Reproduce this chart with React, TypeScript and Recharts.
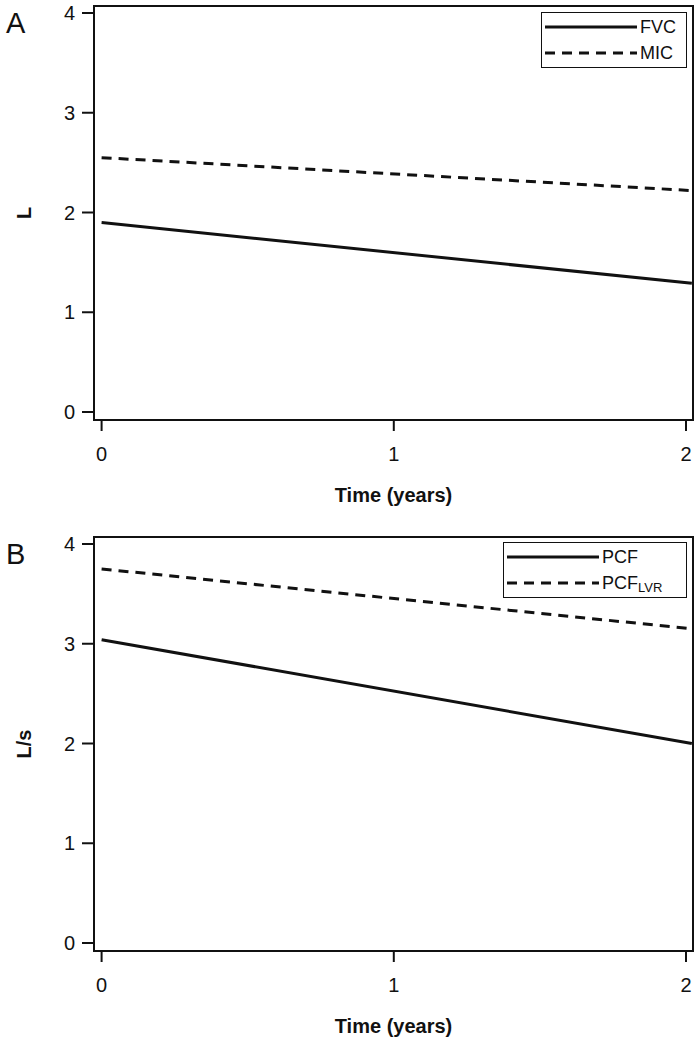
import { LineChart, Line, XAxis, YAxis, Legend, CartesianGrid } from 'recharts'

// values (linear trends, start / end of the time axis)
const TIME = [0, 2.02]
const FVC = [1.9, 1.29]
const MIC = [2.55, 2.22]
const PCF = [3.04, 2.0]
const PCF_LVR = [3.75, 3.15]
const X_TICKS = [0, 1, 2]
const Y_TICKS = [0, 1, 2, 3, 4]

const FONT = '"Liberation Sans", Arial, Helvetica, sans-serif'
const INK = '#111'
const DASH = '10 7'
const X_DOMAIN: [number, number] = [-0.026, 2.024]
const Y_DOMAIN: [number, number] = [-0.08, 4.07]

// layout of one panel
const W = 699
const H = 512
const M = { top: 6, right: 6, bottom: 0, left: 0 }
const Y_AXIS_W = 94
const X_AXIS_H = 92

type Series = { key: string; name: string; sub?: string; values: number[]; dash?: string }

const PANELS: { letter: string; yLabel: string; top: number; legendWidth: number; series: Series[] }[] = [
  {
    letter: 'A', yLabel: 'L', top: 0, legendWidth: 146,
    series: [
      { key: 'fvc', name: 'FVC', values: FVC },
      { key: 'mic', name: 'MIC', values: MIC, dash: DASH },
    ],
  },
  {
    letter: 'B', yLabel: 'L/s', top: 531, legendWidth: 184,
    series: [
      { key: 'pcf', name: 'PCF', values: PCF },
      { key: 'pcfLvr', name: 'PCF', sub: 'LVR', values: PCF_LVR, dash: DASH },
    ],
  },
]

const axisLine = { stroke: INK, strokeWidth: 2 }

const XTick = ({ x, y, payload }: any) => (
  <text x={x} y={y + 14} textAnchor="middle" fill={INK} fontSize={20} fontFamily={FONT}>{payload.value}</text>
)
const YTick = ({ x, y, payload }: any) => (
  <text x={x} y={y + 7} textAnchor="end" fill={INK} fontSize={20} fontFamily={FONT}>{payload.value}</text>
)

const YTitle = ({ viewBox, value }: any) => {
  const cx = 24
  const cy = viewBox.y + viewBox.height / 2
  return (
    <text x={cx} y={cy} transform={`rotate(-90 ${cx} ${cy})`} textAnchor="middle" dominantBaseline="central"
      fill={INK} fontSize={20} fontWeight="bold" fontFamily={FONT}>{value}</text>
  )
}

const XTitle = ({ viewBox, value }: any) => (
  <text x={viewBox.x + viewBox.width / 2} y={viewBox.y + 82} textAnchor="middle"
    fill={INK} fontSize={20} fontWeight="bold" fontFamily={FONT}>{value}</text>
)

const LegendBox = ({ series, width }: { series: Series[]; width: number }) => (
  <div style={{ width, boxSizing: 'border-box', border: `1.5px solid ${INK}`, background: '#fff', padding: '1px 0', fontFamily: FONT }}>
    {series.map(s => (
      <div key={s.key} style={{ display: 'flex', alignItems: 'center', height: 26 }}>
        <svg width={98} height={8} style={{ flex: 'none' }}>
          <line x1={3} x2={95} y1={4} y2={4} stroke={INK} strokeWidth={3} strokeDasharray={s.dash} />
        </svg>
        <span style={{ fontSize: 18, color: INK, lineHeight: 1, whiteSpace: 'nowrap' }}>
          {s.name}
          {s.sub && <span style={{ fontSize: 13, position: 'relative', top: 3 }}>{s.sub}</span>}
        </span>
      </div>
    ))}
  </div>
)

// grid lines only at the plot edges -> a box round the plot area
const edgesH = ({ offset }: any) => [offset.top, offset.top + offset.height]
const edgesV = ({ offset }: any) => [offset.left, offset.left + offset.width]

function Panel({ letter, yLabel, top, legendWidth, series }: typeof PANELS[number]) {
  const data = TIME.map((t, i) => {
    const row: Record<string, number> = { time: t }
    series.forEach(s => { row[s.key] = s.values[i] })
    return row
  })
  const plotW = W - M.left - M.right - Y_AXIS_W
  const plotH = H - M.top - M.bottom - X_AXIS_H

  return (
    <div style={{ position: 'absolute', left: 0, top, width: W, height: H }}>
      {/* frame round the plot area */}
      <div style={{
        position: 'absolute', left: M.left + Y_AXIS_W - 1, top: M.top - 1, width: plotW + 2, height: plotH + 2,
        boxSizing: 'border-box', border: `2px solid ${INK}`, pointerEvents: 'none',
      }} />
      <LineChart width={W} height={H} data={data} margin={M}>
        <CartesianGrid horizontalCoordinatesGenerator={edgesH} verticalCoordinatesGenerator={edgesV}
          stroke={INK} strokeWidth={2} fill="none" />
        <XAxis dataKey="time" type="number" domain={X_DOMAIN} allowDataOverflow ticks={X_TICKS}
          height={X_AXIS_H} tickSize={11} tickMargin={16} axisLine={axisLine}
          tickLine={{ stroke: INK, strokeWidth: 2 }} tick={<XTick />}
          label={<XTitle value="Time (years)" />} />
        <YAxis type="number" domain={Y_DOMAIN} allowDataOverflow ticks={Y_TICKS} width={Y_AXIS_W}
          tickSize={12} tickMargin={7} axisLine={axisLine}
          tickLine={{ stroke: INK, strokeWidth: 2 }} tick={<YTick />}
          label={<YTitle value={yLabel} />} />
        {series.map(s => (
          <Line key={s.key} dataKey={s.key} name={s.name} type="linear" stroke={INK} strokeWidth={3}
            strokeDasharray={s.dash} dot={false} activeDot={false} isAnimationActive={false} />
        ))}
        <Legend layout="horizontal" align="center" verticalAlign="middle"
          wrapperStyle={{ top: letter === 'A' ? 12 : 11, right: 12, left: 'auto', width: 'auto' }}
          content={() => <LegendBox series={series} width={legendWidth} />} />
      </LineChart>
      <div style={{ position: 'absolute', left: 6, top: 8.5, fontSize: 29, lineHeight: 1, fontFamily: FONT, color: INK }}>
        {letter}
      </div>
    </div>
  )
}

export default function App() {
  return (
    <div style={{ position: 'absolute', left: 0, top: 0, width: 699, height: 1043, background: '#fff' }}>
      {PANELS.map(p => <Panel key={p.letter} {...p} />)}
    </div>
  )
}
